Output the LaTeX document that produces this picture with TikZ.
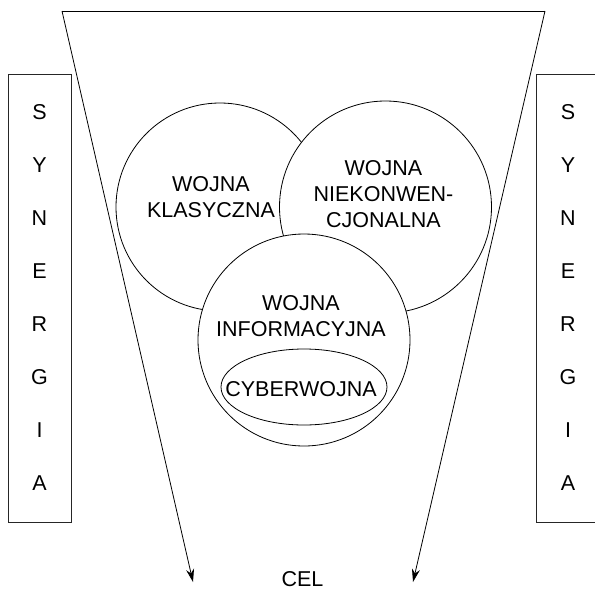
\documentclass[tikz,border=0pt]{standalone}
\usepackage{fontspec}
\setmainfont{Liberation Sans}
\usetikzlibrary{arrows.meta,shapes.geometric}
\begin{document}
\begin{tikzpicture}[x=1pt,y=-1pt,
  lbl/.style={font=\fontsize{21.5}{26}\selectfont, align=center, inner sep=0pt},
  ring/.style={circle, draw, fill=white, line width=0.8pt, inner sep=0pt},
  sbox/.style={draw, line width=1pt, black!85},
  funnel/.style={line width=0.8pt},
  tip/.style={-{Stealth[length=13pt,width=8pt]}}
]
\useasboundingbox (0,0) rectangle (595,590);
\clip (0,0) rectangle (595,590);

% side boxes
\node[sbox, rectangle, minimum width=63pt, minimum height=448pt, inner sep=0pt] (boxL) at (39.5,298) {};
\node[sbox, rectangle, minimum width=63pt, minimum height=448pt, inner sep=0pt] (boxR) at (568,298) {};
\foreach \c [count=\i from 0] in {S,Y,N,E,R,G,I,A} {
  \node[lbl] (L\i) at (39.5,112+53*\i) {\c};
  \node[lbl] (R\i) at (568,112+53*\i) {\c};
}

% funnel
\coordinate (tl) at (62,11);
\coordinate (tr) at (545,11);
\coordinate (al) at (193,582);
\coordinate (ar) at (413,582);
\draw[funnel] (tl) -- (tr);
\draw[funnel, tip] (tl) -- (al);
\draw[funnel, tip] (tr) -- (ar);

% circles
\node[ring, minimum size=208pt] (ck) at (220,207) {};
\node[ring, minimum size=212pt] (cn) at (385.5,207) {};
\node[ring, minimum size=212pt] (ci) at (304,340) {};
\node[ellipse, draw, line width=0.8pt, minimum width=166pt, minimum height=76pt, inner sep=0pt] (ec) at (304,387) {};

% labels
\node[lbl] (tk) at (211,197.5) {WOJNA\\KLASYCZNA};
\node[lbl] (tn) at (383.5,194) {WOJNA\\NIEKONWEN-\\CJONALNA};
\node[lbl] (ti) at (301,316) {WOJNA\\INFORMACYJNA};
\node[lbl] (tc) at (301,389) {CYBERWOJNA};
\node[lbl] (cel) at (302.5,579) {CEL};
\end{tikzpicture}
\end{document}
